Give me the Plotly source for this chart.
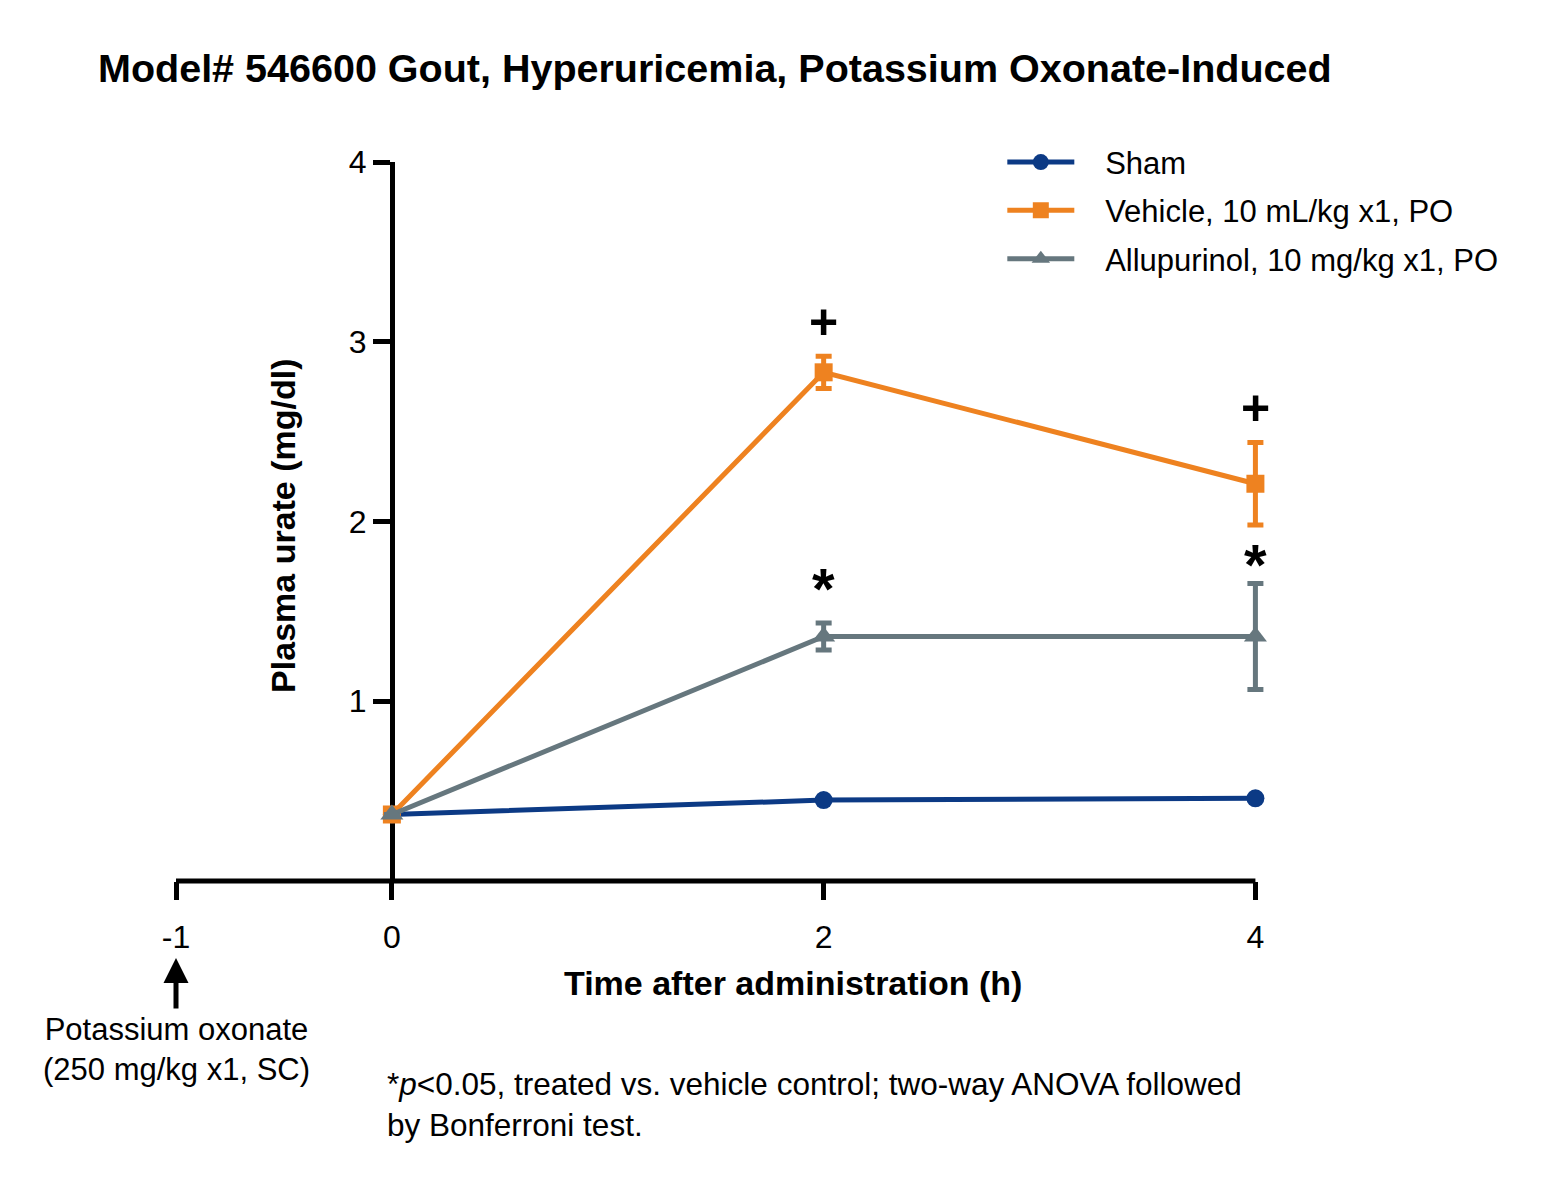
import plotly.graph_objects as go

# Data
time_h = [0, 2, 4]

sham = [0.37, 0.45, 0.46]

vehicle = [0.37, 2.83, 2.21]
vehicle_err = [None, 0.09, 0.23]

allupurinol = [0.37, 1.36, 1.36]
allupurinol_err = [None, 0.075, 0.295]

x_ticks = [-1, 0, 2, 4]
x_tick_text = ["-1", "0", "2", "4"]
y_ticks = [1, 2, 3, 4]

# significance marks (x, y, symbol, font size)
sig_x = [2, 4, 2, 4]
sig_y = [3.11, 2.63, 1.63, 1.76]
sig_text = ["+", "+", "*", "*"]
sig_size = [50, 50, 58, 58]

series_names = [
    "Sham",
    "Vehicle, 10 mL/kg x1, PO",
    "Allupurinol, 10 mg/kg x1, PO",
]
colors = ["#0C3A85", "#EE8220", "#66777E"]

FONT = "Liberation Sans, Arial, sans-serif"
PAD = "\u00a0\u00a0\u00a0"  # gap between legend symbol and label

# x range goes a little past 4 so caps at t=4 are not clipped
X_MAX = 4.1
PX_PER_H = 215.8
x_span = X_MAX - x_ticks[0]
plot_w = x_span * PX_PER_H

fig = go.Figure()

fig.add_trace(
    go.Scatter(
        x=time_h,
        y=sham,
        name=PAD + series_names[0],
        legendgroup="a",
        mode="lines+markers",
        line=dict(color=colors[0], width=5),
        marker=dict(symbol="circle", size=18, color=colors[0]),
        cliponaxis=False,
    )
)
fig.add_trace(
    go.Scatter(
        x=time_h,
        y=vehicle,
        name=PAD + series_names[1],
        legendgroup="b",
        mode="lines+markers",
        line=dict(color=colors[1], width=5),
        marker=dict(symbol="square", size=18, color=colors[1]),
        error_y=dict(
            type="data", array=vehicle_err, color=colors[1], thickness=5, width=8
        ),
        cliponaxis=False,
    )
)
fig.add_trace(
    go.Scatter(
        x=time_h,
        y=allupurinol,
        name=PAD + series_names[2],
        legendgroup="c",
        mode="lines+markers",
        line=dict(color=colors[2], width=5),
        marker=dict(symbol="triangle-up", size=20, color=colors[2]),
        error_y=dict(
            type="data", array=allupurinol_err, color=colors[2], thickness=5, width=8
        ),
        cliponaxis=False,
    )
)

annotations = []
for sx, sy, st, ss in zip(sig_x, sig_y, sig_text, sig_size):
    annotations.append(
        dict(
            x=sx, y=sy, xref="x", yref="y",
            xanchor="center", yanchor="middle",
            text=f"<b>{st}</b>",
            showarrow=False,
            font=dict(family=FONT, size=ss, color="black"),
        )
    )

# axis titles
annotations.append(
    dict(
        x=1.86, y=-0.142, xref="x", yref="paper",
        xanchor="center", yanchor="middle",
        text="<b>Time after administration (h)</b>", showarrow=False,
        font=dict(family=FONT, size=34, color="black"),
    )
)
annotations.append(
    dict(
        x=-0.504, y=0.494, xref="x", yref="paper", textangle=-90,
        xanchor="center", yanchor="middle",
        text="<b>Plasma urate (mg/dl)</b>", showarrow=False,
        font=dict(family=FONT, size=34, color="black"),
    )
)

# potassium oxonate dosing arrow at t = -1
annotations.append(
    dict(
        x=-1, y=-0.107, xref="x", yref="paper", text="",
        showarrow=True, arrowhead=2, arrowsize=1.0, arrowwidth=5,
        arrowcolor="black", ax=0, ay=52,
    )
)
annotations.append(
    dict(
        x=-1, y=-0.235, xref="x", yref="paper",
        xanchor="center", yanchor="middle",
        text="Potassium oxonate<br>(250 mg/kg x1, SC)", showarrow=False,
        font=dict(family=FONT, size=31, color="black"), align="center",
    )
)
annotations.append(
    dict(
        x=-0.031, y=-0.255, xref="x", yref="paper", xanchor="left", yanchor="top",
        text="*<i>p</i>&lt;0.05, treated vs. vehicle control; two-way ANOVA followed"
        "<br>by Bonferroni test.",
        showarrow=False, align="left",
        font=dict(family=FONT, size=31.5, color="black"),
    )
)

# x axis baseline from -1 to 4 only (paper refs so it is not clipped)
shapes = [
    dict(
        type="line", xref="paper", yref="paper",
        x0=0, x1=(x_ticks[-1] - x_ticks[0]) / x_span, y0=0, y1=0,
        line=dict(color="black", width=5), layer="below",
    )
]

fig.update_layout(
    width=1558,
    height=1184,
    paper_bgcolor="white",
    plot_bgcolor="white",
    margin=dict(l=168, r=1558 - 168 - plot_w, t=154, b=311),
    font=dict(family=FONT, size=31, color="black"),
    title=dict(
        text="<b>Model# 546600 Gout, Hyperuricemia, Potassium Oxonate-Induced</b>",
        x=90 / 1558, xanchor="left", xref="container",
        y=1 - 60 / 1184, yanchor="middle", yref="container",
        font=dict(family=FONT, size=39.5, color="black"),
    ),
    xaxis=dict(
        range=[x_ticks[0], X_MAX],
        tickvals=x_ticks,
        ticktext=x_tick_text,
        showline=False,
        ticks="outside", ticklen=18, tickwidth=5, tickcolor="black",
        ticklabelstandoff=10,
        showgrid=False, zeroline=False,
        tickfont=dict(size=32),
    ),
    yaxis=dict(
        range=[0, 4],
        tickvals=y_ticks,
        anchor="free", position=(0 - x_ticks[0]) / x_span,
        showline=True, linewidth=5, linecolor="black",
        ticks="outside", ticklen=17, tickwidth=5, tickcolor="black",
        showgrid=False, zeroline=False,
        layer="below traces",
        tickfont=dict(size=32),
    ),
    legend=dict(
        x=(1002 - 176) / plot_w, y=1.037, xanchor="left", yanchor="top",
        font=dict(family=FONT, size=31, color="black"),
        tracegroupgap=5, itemwidth=67,
        bgcolor="rgba(0,0,0,0)",
    ),
    shapes=shapes,
    annotations=annotations,
    showlegend=True,
)

fig.write_html("out.html")
